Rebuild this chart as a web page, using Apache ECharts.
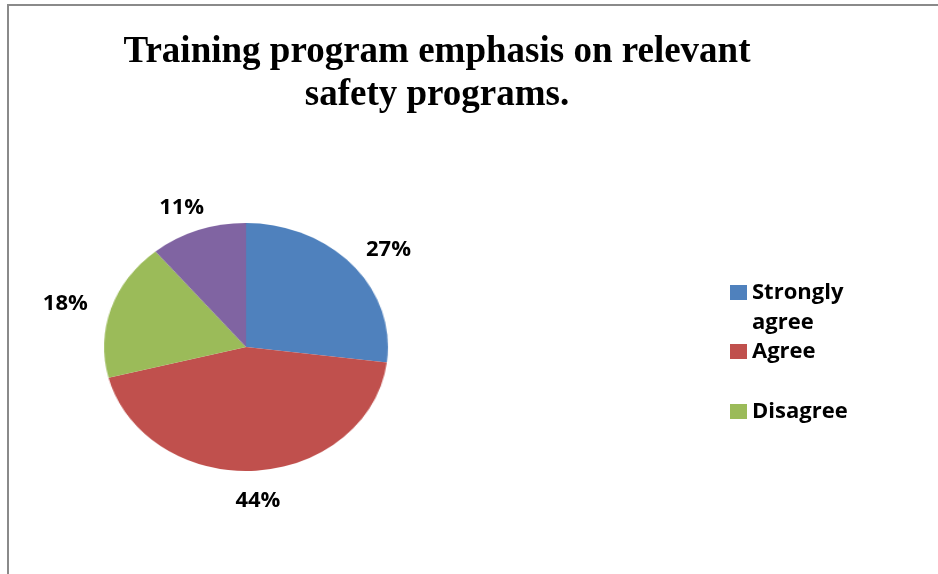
<!DOCTYPE html>
<html>
<head>
<meta charset="utf-8">
<script src="https://cdn.jsdelivr.net/npm/echarts@6/dist/echarts.min.js"></script>
<style>
  html, body { margin: 0; padding: 0; background: #ffffff; }
  #wrap { position: relative; width: 938px; height: 574px; overflow: hidden; }
  #frame { position: absolute; left: 7px; top: 4px; right: -10px; bottom: -10px;
           border-top: 2px solid #8a8a8a; border-left: 2px solid #8a8a8a; }
  #pie, #overlay { position: absolute; left: 0; top: 0; width: 938px; height: 574px; }
  /* the pie is drawn as a circle and widened into an ellipse */
  #pie { transform: scaleX(1.145); transform-origin: 246px 347px; }
</style>
</head>
<body>
<div id="wrap">
  <div id="frame"></div>
  <div id="pie"></div>
  <div id="overlay"></div>
</div>
<script>
// Survey answers (percent of respondents)
const categories = ['Strongly agree', 'Agree', 'Disagree', 'Strongly disagree'];
const shares = [27, 44, 18, 11];
const legendNames = ['Strongly agree', 'Agree', 'Disagree'];
const palette = ['#4F81BD', '#C0504D', '#9BBB59', '#8064A2'];
const titleText = 'Training program emphasis on relevant\nsafety programs.';

// geometry
const CX = 246, CY = 347, RADIUS = 124, STRETCH = 1.145;
const RX = RADIUS * STRETCH;
const PAD_X = 48, PAD_Y = 27, LABEL_SHIFT_Y = 3;
const LABEL_FONT = '"Open Sans", "DejaVu Sans", sans-serif';

const seriesData = categories.map((name, i) => ({ name: name, value: shares[i] }));

// mid angle of each slice, clockwise from 12 o'clock
function midAngle(i) {
  const total = shares.reduce((a, b) => a + b, 0);
  let before = 0;
  for (let j = 0; j < i; j++) before += shares[j];
  return (before + shares[i] / 2) / total * Math.PI * 2;
}

// ---- back layer: the slices ----
const pieChart = echarts.init(document.getElementById('pie'), null, { renderer: 'canvas' });
pieChart.setOption({
  animation: false,
  color: palette,
  series: [{
    type: 'pie',
    center: [CX, CY],
    radius: RADIUS,
    startAngle: 90,
    clockwise: true,
    silent: true,
    label: { show: false },
    labelLine: { show: false },
    data: seriesData
  }]
});

// ---- front layer: title, legend, value labels ----
const overlay = echarts.init(document.getElementById('overlay'), null, { renderer: 'canvas' });
const legendBase = {
  orient: 'vertical',
  left: 730,
  padding: 0,
  icon: 'rect',
  itemWidth: 17,
  itemHeight: 15,
  selectedMode: false,
  itemStyle: { opacity: 1 },
  textStyle: { fontFamily: LABEL_FONT, fontWeight: 'bold', fontSize: 22, color: '#000', lineHeight: 30 }
};
overlay.setOption({
  animation: false,
  color: palette,
  title: {
    text: titleText,
    left: 437,
    top: 31,
    padding: 0,
    textAlign: 'center',
    textStyle: {
      fontFamily: '"Liberation Serif", "Times New Roman", serif',
      fontWeight: 'bold',
      fontSize: 37,
      lineHeight: 43,
      color: '#000'
    }
  },
  legend: [
    // first entry wraps onto two lines; the leading empty line keeps
    // "Strongly" level with the swatch
    Object.assign({}, legendBase, {
      top: 247.5,
      data: [legendNames[0]],
      formatter: () => '\nStrongly\nagree'
    }),
    Object.assign({}, legendBase, { top: 336.5, data: [legendNames[1]] }),
    Object.assign({}, legendBase, { top: 396.5, data: [legendNames[2]] })
  ],
  series: [{
    type: 'pie',
    center: [CX, CY],
    radius: RADIUS,
    startAngle: 90,
    clockwise: true,
    silent: true,
    itemStyle: { opacity: 0 },
    emphasis: { disabled: true },
    label: {
      show: true,
      position: 'outside',
      formatter: '{c}%',
      opacity: 1,
      fontFamily: LABEL_FONT,
      fontWeight: 'bold',
      fontSize: 22,
      color: '#000'
    },
    labelLine: { show: false },
    labelLayout: function (params) {
      const a = midAngle(params.dataIndex);
      return {
        x: CX + Math.sin(a) * (RX + PAD_X),
        y: CY - Math.cos(a) * (RADIUS + PAD_Y) + LABEL_SHIFT_Y,
        align: 'center',
        verticalAlign: 'middle'
      };
    },
    data: seriesData
  }]
});
</script>
</body>
</html>
